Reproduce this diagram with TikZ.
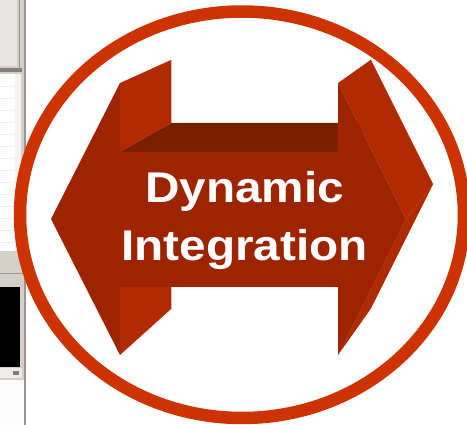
\documentclass[tikz,border=0pt]{standalone}
\usepackage{fontspec}
\setmainfont{Liberation Sans}
\newfontfamily\labelfont{Liberation Sans}[FakeStretch=1.11]
\usetikzlibrary{calc}

\definecolor{ringred}{RGB}{204,51,0}
\definecolor{arrowfront}{RGB}{158,36,0}
\definecolor{arrowside}{RGB}{178,42,0}
\definecolor{arrowtop}{RGB}{122,30,0}
\definecolor{winface}{RGB}{212,208,200}
\definecolor{winedge}{RGB}{150,150,150}

\begin{document}
\begin{tikzpicture}[x=1pt,y=-1pt,
	ring/.style={draw=ringred,line width=12.5pt,fill=white},
	label text/.style={text=white,inner sep=0pt,anchor=base,
		font=\labelfont\bfseries\fontsize{43}{50}\selectfont}]
	\useasboundingbox (0,0) rectangle (467,425);
	\fill[white] (0,0) rectangle (467,425);

	% bit of a program window on the left
	\fill[winface] (0,0) rectangle (26,425);
	\fill[white!45!winface] (0,0) rectangle (17,66);
	\fill[gray] (0,68) rectangle (22,72);
	\fill[white] (0,74) rectangle (15,251);
	\fill[white!75!winface] (15,74) rectangle (21,251);
	\foreach \y in {86,98,...,246}
		\draw[black!7] (0,\y) -- (15,\y);
	\draw[gray!80] (0,273) -- (24,273);
	\fill[black] (0,287) rectangle (20,367);
	\fill[white!60!winface] (0,368) rectangle (22,378);
	\fill[gray] (13,371) rectangle (19,375);
	\fill[white!92!winface] (0,380) rectangle (24,425);
	\draw[winedge] (19,0) -- (19,70);
	\draw[winedge,line width=1.5pt] (25,0) -- (25,425);

	\draw[ring] (242,214.75) ellipse [x radius=222,y radius=203.25];

	% double arrow, extruded towards a vanishing point
	\coordinate (vp) at (725,-190);
	\coordinate (ltip) at (51,219);
	\coordinate (lhtop) at (120,83);
	\coordinate (lstop) at (120,152);
	\coordinate (lsbot) at (120,287);
	\coordinate (lhbot) at (120,355);
	\coordinate (rhtop) at (338,83);
	\coordinate (rstop) at (338,152);
	\coordinate (rtip) at (406,219);
	\coordinate (rsbot) at (338,287);
	\coordinate (rhbot) at (338,355);
	\foreach \p in {lhtop,lstop,lsbot,lhbot,rhtop,rstop,rtip,rhbot}
		\coordinate (\p') at ($(\p)!.085!(vp)$);

	\fill[arrowside] (lsbot) -- (lhbot) -- (lhbot') -- (lsbot') -- cycle;
	\fill[arrowside] (lhtop) -- (lstop) -- (lstop') -- (lhtop') -- cycle;
	\fill[arrowtop] (lstop) -- (rstop) -- (rstop') -- (lstop') -- cycle;
	\fill[arrowside] (rhtop) -- (rtip) -- (rtip') -- (rhtop') -- cycle;
	\fill[arrowside] (rtip) -- (rhbot) -- (rhbot') -- (rtip') -- cycle;
	\fill[arrowfront] (ltip) -- (lhtop) -- (lstop) -- (rstop) -- (rhtop) -- (rtip)
		-- (rhbot) -- (rsbot) -- (lsbot) -- (lhbot) -- cycle;

	\node[label text] (dyn) at (244.5,202.5) {Dynamic};
	\node[label text] (integ) at (244.5,261) {Integration};
\end{tikzpicture}
\end{document}
